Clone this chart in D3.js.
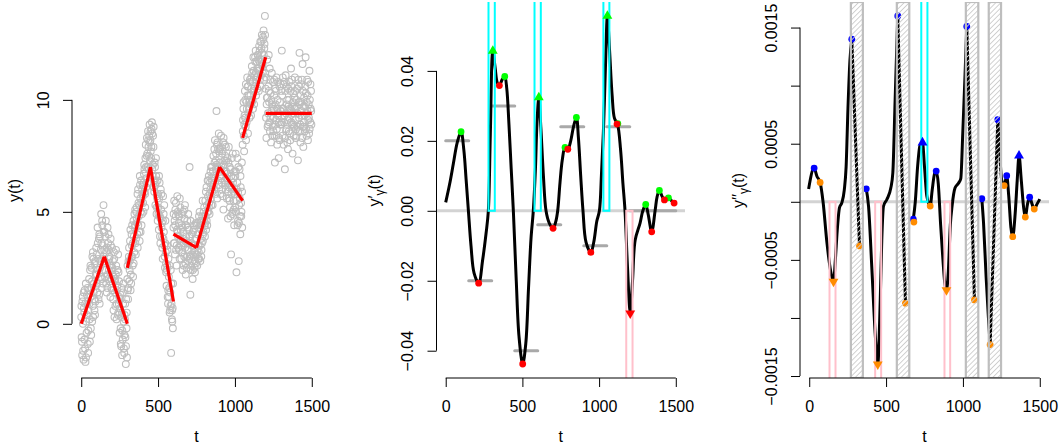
<!DOCTYPE html>
<html><head><meta charset="utf-8">
<script src="https://cdn.jsdelivr.net/npm/d3@7"></script>
<style>
body{margin:0;background:#fff}
svg{display:block}
text{font-family:"Liberation Sans",Arial,Helvetica,sans-serif}
</style>
</head><body>
<svg id="c" width="1060" height="448"></svg>
<script>
// ---------------- data ----------------
const tStep = 5;   // observations every 5 time units (three interleaved series)
const yObs = [   // t = 0, 5, ..., 1495
 0.3,-0.8,1.2,-1.6,0.5,-1.1,1.8,-0.4,0.9,-1.3,
 1.5,0.2,2.6,-0.5,1.9,0.8,2.9,1.1,0.4,2.2,
 3.1,1.4,2.4,3.8,0.9,2.8,4.9,2.0,3.5,5.3,
 3.3,2.1,4.6,2.7,1.6,3.6,2.4,3.0,1.2,2.6,
 3.4,1.8,0.6,2.9,1.4,2.2,0.2,1.7,3.1,0.9,
 -0.4,1.3,-1.0,0.5,-0.7,1.8,-1.3,0.2,-1.8,-0.2,
 2.0,1.1,3.0,2.4,4.2,1.8,3.5,2.6,4.6,3.2,
 4.4,3.1,5.2,4.0,6.0,4.8,3.7,5.6,6.4,4.9,
 6.2,5.0,7.1,5.8,8.0,6.5,7.6,8.6,6.9,8.9,
 8.2,7.4,9.0,6.6,7.9,5.9,7.0,6.3,4.9,5.6,
 5.8,4.2,6.3,3.6,5.1,4.5,2.9,3.8,5.3,2.5,
 3.2,1.7,2.6,0.9,2.1,0.5,1.4,-1.3,0.2,0.7,
 4.3,5.5,3.1,4.8,2.6,5.7,3.9,4.5,2.9,5.2,
 3.5,4.9,2.4,4.1,3.0,5.3,2.2,3.7,4.6,2.8,
 3.3,7.0,1.3,2.6,4.0,2.0,3.5,4.4,2.3,3.1,
 3.8,2.6,4.5,3.2,5.0,2.8,4.2,3.6,5.5,4.1,
 5.2,3.9,4.8,6.1,4.4,5.7,6.6,4.9,6.0,7.0,
 6.4,5.3,7.5,6.0,8.2,6.9,9.5,5.6,7.8,8.5,
 7.2,5.8,8.4,6.3,7.7,5.1,6.8,8.0,6.0,7.3,
 6.7,4.7,7.9,5.5,6.2,3.1,7.4,5.0,6.5,4.4,
 5.8,7.6,2.3,6.3,4.6,2.8,6.9,4.0,5.4,7.2,
 8.0,9.6,7.7,10.4,8.8,9.9,11.0,8.5,10.2,9.2,
 10.8,9.3,11.5,10.0,11.9,9.8,10.6,12.2,10.9,11.4,
 12.0,10.4,11.7,12.6,11.1,12.9,11.6,12.7,10.9,13.75,
 10.5,8.3,11.8,9.4,12.0,9.0,10.9,8.1,11.2,9.7,
 8.6,10.2,7.2,9.8,11.0,8.0,9.3,7.4,10.6,8.9,
 9.5,12.2,8.4,10.7,9.0,6.9,11.1,8.7,10.0,7.8,
 9.2,10.8,8.2,11.4,9.7,7.6,10.3,8.8,11.0,9.1,
 8.4,10.5,7.3,9.9,12.1,8.9,10.7,9.3,11.6,7.9,
 10.1,8.6,11.9,9.4,10.9,8.2,9.8,11.3,9.0,10.4
];
const yObsB = [  // t = 2.5, 7.5, ..., 1497.5
 -0.6,1.0,-1.2,0.7,1.5,-1.7,0.1,1.3,-0.9,0.6,
 0.9,2.4,-0.2,1.6,3.0,0.3,1.8,2.7,1.0,3.4,
 2.2,3.6,1.1,4.0,2.5,3.3,1.6,4.4,2.9,4.1,
 2.8,3.9,1.8,3.4,2.2,4.0,2.9,1.9,3.5,2.0,
 2.5,1.1,3.2,2.0,0.8,2.6,1.5,0.4,2.3,1.2,
 0.7,-0.9,1.6,-0.3,0.9,-1.1,0.4,-0.6,1.1,-1.5,
 1.5,2.8,1.9,3.7,2.2,4.0,3.0,2.1,3.9,4.3,
 3.6,5.0,4.5,3.4,5.4,4.1,6.2,5.0,4.4,5.8,
 5.4,6.7,5.9,7.4,6.1,8.3,7.0,7.9,8.4,7.3,
 7.7,8.7,6.9,8.4,6.1,7.2,5.3,6.6,5.7,4.6,
 4.9,5.6,3.9,6.0,4.3,3.4,5.7,4.1,3.0,4.6,
 2.3,3.5,1.2,2.9,1.6,0.6,2.4,0.9,0.1,1.8,
 3.6,4.6,5.1,3.3,4.2,5.0,3.4,4.8,3.7,4.2,
 4.4,3.2,5.0,3.6,4.7,2.7,3.9,3.0,4.3,3.6,
 2.9,3.9,2.4,3.6,2.8,4.1,3.0,2.5,3.8,2.7,
 3.1,4.0,3.5,2.9,4.4,3.8,3.3,4.8,4.0,4.6,
 4.4,5.5,4.2,5.3,6.4,5.0,5.4,6.3,5.6,6.5,
 5.9,6.8,6.2,7.2,5.8,7.6,8.0,7.0,6.4,7.7,
 6.6,7.9,7.0,6.0,8.1,7.1,6.4,7.5,6.8,5.6,
 5.9,7.2,6.1,5.2,6.9,5.8,4.9,6.3,5.5,6.8,
 6.6,5.0,6.0,4.4,7.0,5.3,4.8,6.1,5.0,4.3,
 9.1,8.4,9.3,10.0,8.2,9.6,10.6,9.4,9.9,10.9,
 9.8,10.5,11.2,9.6,10.4,11.1,11.7,10.2,11.0,12.0,
 11.3,12.4,10.9,11.8,12.3,11.5,12.8,12.0,12.5,11.2,
 9.2,10.1,8.8,10.6,9.9,8.6,10.3,9.5,8.4,10.8,
 9.6,8.4,10.5,9.1,8.7,10.0,9.4,8.3,9.9,10.7,
 8.9,10.2,9.6,8.0,9.3,10.4,8.6,9.8,9.1,10.5,
 10.0,8.5,9.5,10.6,8.9,9.9,8.4,10.1,9.6,8.7,
 9.7,8.8,10.9,9.2,8.6,10.2,9.5,8.3,10.4,9.0,
 9.3,10.6,8.7,9.9,10.2,9.1,8.5,10.0,9.6,8.9
];
const yObsC = [  // t = 1.25, 6.25, ..., 1496.25
 0.8,-1.4,0.0,1.4,-0.7,0.9,-1.5,0.4,1.6,-0.3,
 2.0,-0.8,1.2,2.5,0.1,3.2,1.4,0.6,2.8,1.7,
 1.8,4.3,2.9,1.3,3.9,2.1,3.6,4.6,1.8,3.0,
 4.1,2.4,3.2,1.4,4.3,2.0,3.3,2.6,3.8,1.6,
 1.5,2.8,2.1,0.3,1.9,3.3,0.9,2.4,0.5,1.9,
 1.1,-0.2,0.3,-1.4,1.4,0.1,-0.5,0.9,-1.0,0.5,
 2.6,1.6,3.4,2.8,1.5,3.0,4.4,3.6,2.7,4.9,
 5.1,3.8,4.7,5.8,4.4,5.3,6.6,4.1,5.4,6.0,
 5.7,6.3,6.9,5.2,7.0,7.5,6.3,8.2,7.5,8.1,
 8.6,7.9,8.5,7.1,8.8,6.4,6.2,7.4,5.2,6.4,
 5.2,6.6,4.8,4.7,5.8,3.9,4.6,4.9,3.5,3.6,
 2.7,2.4,3.3,1.5,1.2,2.6,0.8,1.8,0.6,-0.2,
 4.9,3.6,4.4,5.4,3.5,4.1,4.9,3.3,5.6,3.8,
 2.9,4.3,3.8,2.6,5.1,3.4,4.4,2.5,3.3,4.9,
 4.2,3.0,4.6,3.1,3.5,2.4,4.2,3.2,2.8,4.5,
 4.4,3.3,2.9,4.8,3.5,4.6,3.0,4.4,3.7,5.0,
 4.8,4.5,5.9,4.6,5.0,6.4,5.2,5.8,6.8,5.3,
 7.0,6.1,6.6,7.8,6.5,7.3,7.1,8.1,6.9,6.2,
 7.8,6.9,6.5,7.6,5.7,8.3,7.3,6.2,7.9,6.5,
 7.4,6.3,5.6,7.0,4.8,6.6,6.0,7.6,5.1,5.9,
 5.2,6.8,5.5,7.4,5.9,4.5,5.6,6.6,4.8,5.9,
 8.6,9.9,8.9,9.2,10.7,9.0,10.2,10.6,9.6,10.0,
 10.2,11.0,9.9,10.8,11.3,10.5,11.9,11.2,11.7,10.5,
 11.8,11.4,12.2,10.6,12.6,12.1,11.2,13.1,12.3,12.9,
 11.0,9.8,10.1,8.9,10.4,11.4,9.2,10.0,9.8,8.8,
 9.2,10.9,8.9,10.4,8.4,9.6,10.8,9.0,8.2,9.5,
 10.4,9.0,11.0,9.6,10.8,8.3,9.4,10.6,8.1,9.7,
 8.6,9.6,10.4,9.0,10.9,9.4,8.9,9.7,10.4,8.3,
 10.0,9.4,8.6,10.6,9.8,8.1,9.9,10.9,8.8,9.7,
 8.8,9.7,10.3,8.4,9.5,10.8,9.2,8.7,10.7,9.5
];

// piecewise-linear signal (red) and its slopes (gray segments, panel 2)
const segT0 = [0,150,300,450,600,750,900,1050,1200];
const segT1 = [150,300,450,600,750,900,1050,1200,1500];
const segY0 = [0,3,2.5,7,4,3.4,7,8.3,9.4];
const segY1 = [3,0,7,1,3.4,7,5.5,11.9,9.4];
const segSlope = [0.02,-0.02,0.03,-0.04,-0.004,0.024,-0.01,0.024,0];

// first derivative estimate (panel 2)
const d1T = [0,25,50,75,100,118,133,148,165,185,215,241,263,278,291,307,322,337,350,368,385,398,412,427,441,460,478,502,522,540,556,571,585,595,607,620,637,654,675,700,718,730,745,760,778,796,815,833,852,865,880,895,915,946,965,985,1002,1015,1030,1042,1054,1068,1085,1100,1120,1140,1155,1169,1185,1203,1218,1235,1267,1285,1304,1320,1343,1365,1378,1393,1410,1426,1438,1452,1470,1489];
const d1V = [0.0024,0.0075,0.0135,0.0195,0.0226,0.0175,0.009,0,-0.01,-0.0178,-0.0207,-0.014,-0.0065,0,0.022,0.0457,0.041,0.0365,0.0358,0.0375,0.0384,0.035,0.025,0.012,0,-0.02,-0.036,-0.0438,-0.038,-0.022,-0.008,0,0.012,0.025,0.0324,0.024,0.01,0,-0.0035,-0.005,-0.003,0,0.008,0.0145,0.0181,0.0176,0.02,0.024,0.0267,0.021,0.01,0,-0.009,-0.0119,-0.009,-0.003,0,0.01,0.025,0.042,0.0557,0.046,0.033,0.0265,0.0248,0.0175,0.008,0,-0.016,-0.0293,-0.02,-0.0084,-0.0035,0,0.0018,-0.001,-0.006,0,0.004,0.0058,0.0042,0.0031,0.0034,0.0037,0.003,0.0022];
const d1MaxT = [100,385,778,852,1122,1304,1393,1452];
const d1MaxV = [0.0226,0.0384,0.0181,0.0267,0.0249,0.0018,0.0058,0.0037];
const d1MinT = [215,350,502,700,796,946,1117,1343,1426,1489];
const d1MinV = [-0.0207,0.0358,-0.0438,-0.005,0.0176,-0.0119,0.0248,-0.006,0.0031,0.0022];
const d1UpT = [307,607,1054];
const d1UpV = [0.0457,0.0324,0.0557];
const d1DnT = [1203];
const d1DnV = [-0.0293];
const d1CyanT0 = [279,579,1028];
const d1CyanT1 = [320,620,1067];
const d1PinkT0 = [1177];
const d1PinkT1 = [1218];

// second derivative estimate (panel 3), solid pieces
const d2Pieces = [
 {t:[-4,32,50,71,90,115,140,158,170,182,197,212,228,240,252,265,277],
  v:[0.00011,0.00029,0.00022,0.000167,0,-0.00035,-0.0006,-0.00069,-0.0005,-0.00025,-0.00005,-0.00001,0.0001,0.0003,0.0008,0.00122,0.0014]},
 {t:[371,386,407,429,446,462,472,483,505,531,544,559,576],
  v:[0.000112,-0.00004,-0.00056,-0.00113,-0.0014,-0.00085,-0.00033,-0.00004,0.00002,0.00012,0.00025,0.00088,0.0016]},
 {t:[677,690,705,720,737,750,765,787,800,815,826,840,855,870,882,893,905,918,930,949,971,986,999,1014,1025],
  v:[-0.00015,0,0.0003,0.00048,0.00051,0.0003,0.00005,-0.000037,0.0001,0.00024,0.000264,0.00015,-0.0002,-0.0005,-0.0007,-0.00076,-0.0006,-0.0002,-0.00003,0.00012,0.00016,0.0002,0.00059,0.0011,0.00151]},
 {t:[1123,1134,1151,1166,1177],
  v:[0.000026,-0.00018,-0.00065,-0.001,-0.00123]},
 {t:[1227,1240,1252,1268,1285,1298,1312,1324,1340,1353,1365,1380,1395,1406,1420,1434,1450,1464,1482,1500],
  v:[0.000707,0.0004,0.00019,0.00014,0.000224,0.00005,-0.00022,-0.0003,-0.0001,0.00018,0.000397,0.00018,-0.00005,-0.000132,-0.00002,0.00004,-0.00002,-0.000063,-0.00002,0.000023]}
];
// straight connections across the jump zones
const d2JumpT0 = [277,576,1025,1177];
const d2JumpV0 = [0.0014,0.0016,0.00151,-0.00123];
const d2JumpT1 = [327,626,1075,1227];
const d2JumpV1 = [-0.00038,-0.000874,-0.000845,0.000707];
const d2MaxT = [32,277,371,576,677,826,1025,1123,1227,1285,1434];
const d2MaxV = [0.00029,0.0014,0.000112,0.0016,-0.00015,0.000264,0.00151,0.000026,0.000707,0.000224,0.00004];
const d2MinT = [71,327,626,681,787,1075,1177,1268,1324,1406,1464];
const d2MinV = [0.000167,-0.00038,-0.000874,-0.000175,-0.000037,-0.000845,-0.00123,0.00014,-0.0003,-0.000132,-0.000063];
const d2UpT = [737,1365];
const d2UpV = [0.00051,0.000397];
const d2DnT = [158,446,893];
const d2DnV = [-0.000687,-0.0014,-0.00076];
const d2HatchT0 = [271,570,1019,1168];
const d2HatchT1 = [349,651,1100,1248];
const d2CyanT0 = [729];
const d2CyanT1 = [769];
const d2PinkT0 = [132,429,880];
const d2PinkT1 = [171,468,917];

const xTicks = [0,500,1000,1500];
const y1Ticks = [0,5,10];
const y1Labels = ["0","5","10"];
const y2Ticks = [-0.04,-0.02,0,0.02,0.04];
const y2Labels = ["\u22120.04","\u22120.02","0.00","0.02","0.04"];
const y3Ticks = [-0.0015,-0.001,-0.0005,0,0.0005,0.001,0.0015];
const y3Labels = ["\u22120.0015","","\u22120.0005","","0.0005","","0.0015"];

// ---------------- drawing ----------------
const svg = d3.select("#c");
const FONT = "Liberation Sans, Arial, Helvetica, sans-serif";
const defs = svg.append("defs");
const pat = defs.append("pattern").attr("id","hatch").attr("patternUnits","userSpaceOnUse")
  .attr("width",3.6).attr("height",3.6).attr("patternTransform","rotate(45)");
pat.append("line").attr("x1",0).attr("y1",0).attr("x2",0).attr("y2",3.6)
  .attr("stroke","#cdcdcd").attr("stroke-width",1.8);

const TOP = 2, BOT = 378;
function panel(id, x0, x1p, yDomain){
  const x = d3.scaleLinear().domain([-60,1560]).range([x0,x1p]);
  const y = d3.scaleLinear().domain(yDomain).range([BOT,TOP]);
  defs.append("clipPath").attr("id","clip"+id).append("rect")
    .attr("x",x0).attr("y",TOP).attr("width",x1p-x0).attr("height",BOT-TOP);
  const g = svg.append("g").attr("clip-path",`url(#clip${id})`);
  return {x,y,g};
}
function axes(p, yTicks, yLabels, yLabDx){
  const {x,y} = p;
  const gx = svg.append("g").attr("transform",`translate(0,${BOT})`)
    .call(d3.axisBottom(x).tickValues(xTicks).tickSize(9).tickPadding(14).tickFormat(d3.format("d")));
  gx.select(".domain").remove();
  gx.append("line").attr("x1",x(xTicks[0])).attr("x2",x(xTicks[xTicks.length-1]))
    .attr("stroke","#000").attr("stroke-width",1);
  gx.attr("font-size",null).attr("font-family",null);
  gx.selectAll("text").attr("font-size",16).attr("font-family",FONT).attr("fill","#000");
  gx.selectAll("line").attr("stroke","#000");
  const xl = x.range()[0];
  const gy = svg.append("g").attr("transform",`translate(${xl},0)`)
    .call(d3.axisLeft(y).tickValues(yTicks).tickSize(9).tickFormat((d,i)=>yLabels[i]));
  gy.select(".domain").remove();
  gy.append("line").attr("y1",y(yTicks[0])).attr("y2",y(yTicks[yTicks.length-1]))
    .attr("stroke","#000").attr("stroke-width",1);
  gy.attr("font-size",null).attr("font-family",null);
  gy.selectAll("line").attr("stroke","#000");
  gy.selectAll("text").attr("x",0).attr("dy",null)
    .attr("transform",`translate(${yLabDx},0) rotate(-90)`)
    .attr("text-anchor","middle").attr("dominant-baseline","central")
    .attr("font-size",16).attr("font-family",FONT).attr("fill","#000");
  const xr = x.range();
  svg.append("text").attr("x",(xr[0]+xr[1])/2).attr("y",442).attr("text-anchor","middle")
    .attr("font-size",16).attr("font-family",FONT).text("t");
}
function yTitle(xb, parts){
  const t = svg.append("text").attr("transform",`translate(${xb},190.5) rotate(-90)`)
    .attr("text-anchor","middle").attr("font-size",16).attr("font-family",FONT);
  parts.forEach(p=>{
    const s = t.append("tspan").text(p.s);
    if(p.dy) s.attr("dy",p.dy);
    if(p.fs) s.attr("font-size",p.fs);
  });
}
function outlineRects(p, t0s, t1s, from, to, color){
  t0s.forEach((t0,i)=>{
    const ya = p.y(from), yb = p.y(to);
    p.g.append("rect").attr("x",p.x(t0)).attr("width",p.x(t1s[i])-p.x(t0))
      .attr("y",Math.min(ya,yb)).attr("height",Math.abs(yb-ya))
      .attr("fill","none").attr("stroke",color).attr("stroke-width",2);
  });
}
function dots(p, ts, vs, color, r){
  ts.forEach((t,i)=>p.g.append("circle").attr("cx",p.x(t)).attr("cy",p.y(vs[i])).attr("r",r).attr("fill",color));
}
function tris(p, ts, vs, color, down){
  const sym = d3.symbol().type(d3.symbolTriangle).size(42);
  ts.forEach((t,i)=>p.g.append("path").attr("d",sym())
    .attr("transform",`translate(${p.x(t)},${p.y(vs[i])})${down?" rotate(180)":""}`).attr("fill",color));
}

// ----- Panel 1 -----
const P1 = panel(1, 72, 321, [-2.42,14.37]);
const obs = yObs.map((v,i)=>[i*tStep, v])
  .concat(yObsB.map((v,i)=>[i*tStep+tStep/2, v]))
  .concat(yObsC.map((v,i)=>[i*tStep+tStep/4, v]));
P1.g.selectAll("circle.obs").data(obs).enter().append("circle")
  .attr("cx",d=>P1.x(d[0])).attr("cy",d=>P1.y(d[1])).attr("r",3.4)
  .attr("fill","none").attr("stroke","#bebebe").attr("stroke-width",1.1);
segT0.forEach((t0,i)=>{
  P1.g.append("line").attr("x1",P1.x(t0)).attr("y1",P1.y(segY0[i]))
    .attr("x2",P1.x(segT1[i])).attr("y2",P1.y(segY1[i]))
    .attr("stroke","#ff0000").attr("stroke-width",3.2);
});
axes(P1, y1Ticks, y1Labels, -28.7);
yTitle(20, [{s:"y(t)"}]);

// ----- Panel 2 -----
const P2 = panel(2, 436.5, 685, [-0.0478,0.0597]);
P2.g.append("line").attr("x1",436.5).attr("x2",685).attr("y1",P2.y(0)).attr("y2",P2.y(0))
  .attr("stroke","#d3d3d3").attr("stroke-width",3);
segT0.forEach((t0,i)=>{
  P2.g.append("line").attr("x1",P2.x(t0)).attr("x2",P2.x(segT1[i]))
    .attr("y1",P2.y(segSlope[i])).attr("y2",P2.y(segSlope[i]))
    .attr("stroke","#a9a9a9").attr("stroke-width",3).attr("stroke-linecap","round");
});
const line2 = d3.line().x(d=>P2.x(d[0])).y(d=>P2.y(d[1])).curve(d3.curveCatmullRom.alpha(0.5));
P2.g.append("path").attr("d",line2(d1T.map((t,i)=>[t,d1V[i]])))
  .attr("fill","none").attr("stroke","#000").attr("stroke-width",3);
outlineRects(P2, d1CyanT0, d1CyanT1, 0, 0.1, "#00ffff");
outlineRects(P2, d1PinkT0, d1PinkT1, 0, -0.1, "#ffc0cb");
dots(P2, d1MaxT, d1MaxV, "#00ff00", 3.4);
dots(P2, d1MinT, d1MinV, "#ff0000", 3.4);
tris(P2, d1UpT, d1UpV, "#00ff00", false);
tris(P2, d1DnT, d1DnV, "#ff0000", true);
axes(P2, y2Ticks, y2Labels, -29);
yTitle(379.5, [{s:"y\u2032"},{s:"\u03b3",dy:4,fs:12},{s:"(t)",dy:-4}]);

// ----- Panel 3 -----
const P3 = panel(3, 800, 1049, [-0.001517,0.00172]);
P3.g.append("line").attr("x1",800).attr("x2",1049).attr("y1",P3.y(0)).attr("y2",P3.y(0))
  .attr("stroke","#d3d3d3").attr("stroke-width",3);
const line3 = d3.line().x(d=>P3.x(d[0])).y(d=>P3.y(d[1])).curve(d3.curveMonotoneX);
d2Pieces.forEach(pc=>{
  P3.g.append("path").attr("d",line3(pc.t.map((t,i)=>[t,pc.v[i]])))
    .attr("fill","none").attr("stroke","#000").attr("stroke-width",3);
});
d2JumpT0.forEach((t0,i)=>{
  P3.g.append("line").attr("x1",P3.x(t0)).attr("y1",P3.y(d2JumpV0[i]))
    .attr("x2",P3.x(d2JumpT1[i])).attr("y2",P3.y(d2JumpV1[i]))
    .attr("stroke","#000").attr("stroke-width",3);
});
outlineRects(P3, d2CyanT0, d2CyanT1, 0, 0.01, "#00ffff");
outlineRects(P3, d2PinkT0, d2PinkT1, 0, -0.01, "#ffc0cb");
dots(P3, d2MaxT, d2MaxV, "#0000ff", 3.4);
dots(P3, d2MinT, d2MinV, "#ff8c00", 3.4);
tris(P3, d2UpT, d2UpV, "#0000ff", false);
tris(P3, d2DnT, d2DnV, "#ff8c00", true);
d2HatchT0.forEach((t0,i)=>{
  P3.g.append("rect").attr("x",P3.x(t0)).attr("width",P3.x(d2HatchT1[i])-P3.x(t0))
    .attr("y",TOP).attr("height",BOT-TOP)
    .attr("fill","url(#hatch)").attr("stroke","#bebebe").attr("stroke-width",2.2);
});
axes(P3, y3Ticks, y3Labels, -28.3);
yTitle(743.5, [{s:"y\u2032\u2032"},{s:"\u03b3",dy:4,fs:12},{s:"(t)",dy:-4}]);
</script>
</body></html>
